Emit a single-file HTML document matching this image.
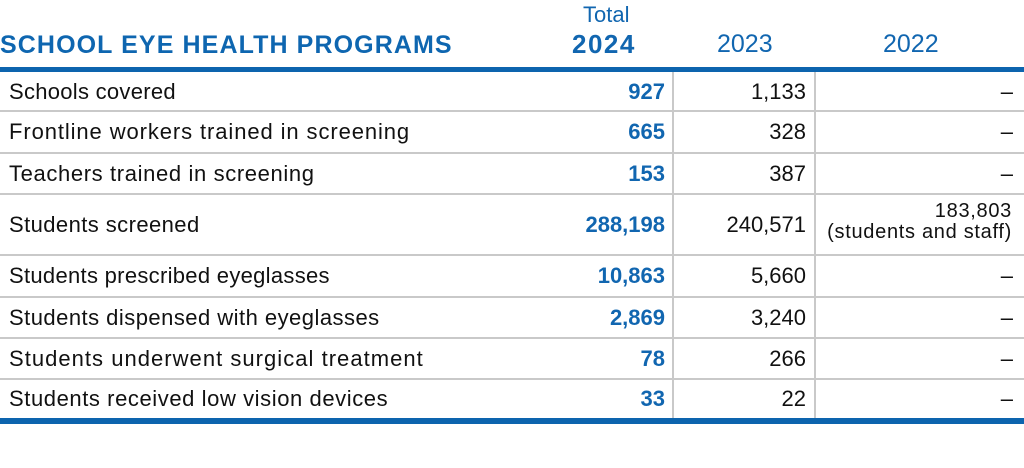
<!DOCTYPE html>
<html>
<head>
<meta charset="utf-8">
<style>
  html, body { margin:0; padding:0; background:#fff; }
  body { width:1024px; height:468px; position:relative; overflow:hidden;
         font-family:"Liberation Sans", Arial, sans-serif; color:#111; }
  .abs { position:absolute; }
  .title { left:0; top:28px; font-size:25px; font-weight:bold; color:#0e66b0;
           letter-spacing:1.1px; line-height:34px; white-space:nowrap; }
  .hdr { color:#1166b0; white-space:nowrap; line-height:1; }
  .blue-line { left:0; width:1024px; height:5px; background:#0d64ae; }
  .hsep { left:0; width:1024px; height:2px; background:#c9c9c9; }
  .vsep { width:2px; background:#c9c9c9; top:72px; height:346px; }
  .cell { position:absolute; display:flex; align-items:center; font-size:22px;
          line-height:1; white-space:nowrap; }
  .lab { left:9px; width:600px; }
  .c1 { left:560px; width:105px; justify-content:flex-end; font-weight:bold; color:#1166b0; }
  .c2 { left:680px; width:126px; justify-content:flex-end; }
  .c3 { left:820px; width:193px; justify-content:flex-end; }
</style>
</head>
<body>
  <div class="abs title">SCHOOL EYE HEALTH PROGRAMS</div>
  <div class="abs hdr" style="left:583px; top:4px; font-size:22px;">Total</div>
  <div class="abs hdr" style="left:572px; top:31px; font-size:26px; font-weight:bold; letter-spacing:1.5px;">2024</div>
  <div class="abs hdr" style="left:717px; top:32px; font-size:25px;">2023</div>
  <div class="abs hdr" style="left:883px; top:32px; font-size:25px;">2022</div>

  <div class="abs blue-line" style="top:67px;"></div>
  <div class="abs blue-line" style="top:418px; height:6px;"></div>

  <div class="abs hsep" style="top:110px;"></div>
  <div class="abs hsep" style="top:152px;"></div>
  <div class="abs hsep" style="top:193px;"></div>
  <div class="abs hsep" style="top:254px;"></div>
  <div class="abs hsep" style="top:296px;"></div>
  <div class="abs hsep" style="top:337px;"></div>
  <div class="abs hsep" style="top:378px;"></div>

  <div class="abs vsep" style="left:672px;"></div>
  <div class="abs vsep" style="left:814px;"></div>

  <!-- Row 1 -->
  <div class="cell lab" style="top:72px;height:39px;letter-spacing:0.28px;">Schools covered</div>
  <div class="cell c1" style="top:72px;height:39px;">927</div>
  <div class="cell c2" style="top:72px;height:39px;">1,133</div>
  <div class="cell c3" style="top:72px;height:39px;">–</div>

  <!-- Row 2 -->
  <div class="cell lab" style="top:111px;height:42px;letter-spacing:0.9px;">Frontline workers trained in screening</div>
  <div class="cell c1" style="top:111px;height:42px;">665</div>
  <div class="cell c2" style="top:111px;height:42px;">328</div>
  <div class="cell c3" style="top:111px;height:42px;">–</div>

  <!-- Row 3 -->
  <div class="cell lab" style="top:153px;height:41px;letter-spacing:0.63px;">Teachers trained in screening</div>
  <div class="cell c1" style="top:153px;height:41px;">153</div>
  <div class="cell c2" style="top:153px;height:41px;">387</div>
  <div class="cell c3" style="top:153px;height:41px;">–</div>

  <!-- Row 4 -->
  <div class="cell lab" style="top:194px;height:61px;letter-spacing:0.42px;">Students screened</div>
  <div class="cell c1" style="top:194px;height:61px;">288,198</div>
  <div class="cell c2" style="top:194px;height:61px;">240,571</div>
  <div class="abs" style="left:800px; width:212px; top:201px; text-align:right; font-size:20px; line-height:21px; letter-spacing:0.7px; white-space:nowrap;">183,803<br>(students and staff)</div>

  <!-- Row 5 -->
  <div class="cell lab" style="top:255px;height:42px;letter-spacing:0.3px;">Students prescribed eyeglasses</div>
  <div class="cell c1" style="top:255px;height:42px;">10,863</div>
  <div class="cell c2" style="top:255px;height:42px;">5,660</div>
  <div class="cell c3" style="top:255px;height:42px;">–</div>

  <!-- Row 6 -->
  <div class="cell lab" style="top:297px;height:41px;letter-spacing:0.47px;">Students dispensed with eyeglasses</div>
  <div class="cell c1" style="top:297px;height:41px;">2,869</div>
  <div class="cell c2" style="top:297px;height:41px;">3,240</div>
  <div class="cell c3" style="top:297px;height:41px;">–</div>

  <!-- Row 7 -->
  <div class="cell lab" style="top:338px;height:41px;letter-spacing:1.03px;">Students underwent surgical treatment</div>
  <div class="cell c1" style="top:338px;height:41px;">78</div>
  <div class="cell c2" style="top:338px;height:41px;">266</div>
  <div class="cell c3" style="top:338px;height:41px;">–</div>

  <!-- Row 8 -->
  <div class="cell lab" style="top:379px;height:39px;letter-spacing:0.58px;">Students received low vision devices</div>
  <div class="cell c1" style="top:379px;height:39px;">33</div>
  <div class="cell c2" style="top:379px;height:39px;">22</div>
  <div class="cell c3" style="top:379px;height:39px;">–</div>
</body>
</html>
